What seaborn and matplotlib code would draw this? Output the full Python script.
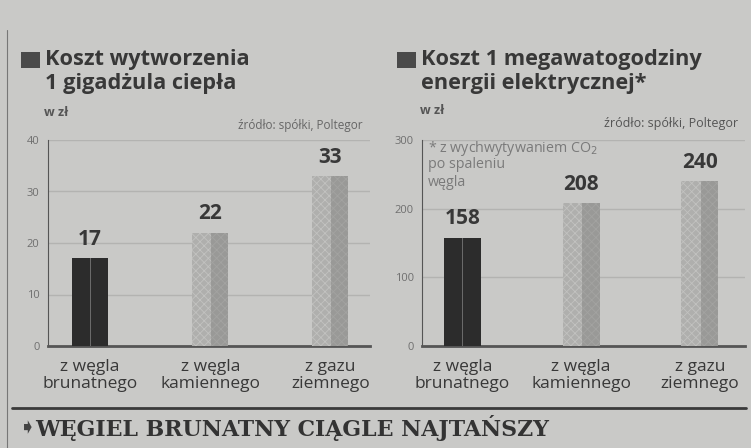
import matplotlib
matplotlib.use("Agg")
import matplotlib.pyplot as plt
from matplotlib.patches import Rectangle
import seaborn as sns

# dane
kategorie = ["z węgla\nbrunatnego", "z węgla\nkamiennego", "z gazu\nziemnego"]
koszt_ciepla = [17, 22, 33]
koszt_energii = [158, 208, 240]
ticks_ciepla = [0, 10, 20, 30, 40]
ticks_energii = [0, 100, 200, 300]
przypis = ["* z wychwytywaniem CO$_2$", "po spaleniu", "węgla"]

tlo = "#c9c9c7"
ciemny = "#2c2c2c"
jasny = "#afafad"
tekst = "#383838"

sns.set_theme(style="white")
plt.rcParams["font.family"] = ["Open Sans", "DejaVu Sans"]
plt.rcParams["hatch.linewidth"] = 0.6

fig = plt.figure(figsize=(7.51, 4.48), dpi=100, facecolor=tlo)
W, H = 751, 448

def fx(px):
    return px / W

def fy(py):
    return 1 - py / H

def rysuj(ax, wartosci, ticks, xlim, szer):
    ax.set_facecolor(tlo)
    sns.barplot(x=kategorie, y=wartosci, hue=kategorie, palette=[ciemny, jasny, jasny],
                legend=False, ax=ax, width=szer, saturation=1)
    for i, p in enumerate(list(ax.patches)):
        p.set_linewidth(0)
        p.set_zorder(3)
        x0, w, h = p.get_x(), p.get_width(), p.get_height()
        if i > 0:
            p.set_hatch("xxxx")
            p.set_edgecolor("#c2c2c0")
            # ciemniejsza prawa polowa (efekt 3D)
            ax.add_patch(Rectangle((x0 + w * 0.52, 0), w * 0.48, h, color="#7f7f7d",
                                   alpha=0.45, lw=0, zorder=4))
        else:
            ax.add_patch(Rectangle((x0 + w * 0.49, 0), w * 0.03, h, color="#6a6a6a",
                                   lw=0, zorder=4))
    for i, v in enumerate(wartosci):
        ax.annotate(str(v), (i, v), xytext=(0, 6), textcoords="offset points",
                    ha="center", va="bottom", fontsize=15, fontweight="bold", color=tekst)
    ax.set_ylim(ticks[0], ticks[-1])
    ax.set_xlim(*xlim)
    ax.set_yticks(ticks)
    ax.set_yticklabels([str(t) for t in ticks], fontsize=8, color="#6f6f6f")
    ax.yaxis.grid(True, color="#b3b3b1", lw=1)
    ax.set_axisbelow(True)
    for s in ["top", "right"]:
        ax.spines[s].set_visible(False)
    ax.spines["left"].set_color("#555555")
    ax.spines["left"].set_linewidth(0.8)
    ax.spines["bottom"].set_color("#555555")
    ax.spines["bottom"].set_linewidth(2)
    ax.tick_params(axis="y", length=0, pad=6)
    ax.tick_params(axis="x", length=0, pad=9, labelsize=12.5, labelcolor=tekst)
    ax.set_xlabel("")
    ax.set_ylabel("")
    for lab in ax.get_xticklabels():
        lab.set_linespacing(1.12)

ax1 = fig.add_axes([fx(48), fy(346), fx(370 - 48), (346 - 140) / H])
rysuj(ax1, koszt_ciepla, ticks_ciepla, (-0.35, 2.33), 0.3)

ax2 = fig.add_axes([fx(422), fy(346), fx(745 - 422), (346 - 140) / H])
rysuj(ax2, koszt_energii, ticks_energii, (-0.34, 2.38), 0.31)

# tytuly
def tytul(x, linie):
    fig.add_artist(Rectangle((fx(x), fy(68)), fx(19), 16 / H, color="#4a4a4a", lw=0))
    fig.text(fx(x + 24), fy(60), linie[0], fontsize=15.7, fontweight="bold", color=tekst,
             va="center", ha="left")
    fig.text(fx(x + 24), fy(84), linie[1], fontsize=15.7, fontweight="bold", color=tekst,
             va="center", ha="left")

tytul(21, ["Koszt wytworzenia", "1 gigadżula ciepła"])
tytul(397, ["Koszt 1 megawatogodziny", "energii elektrycznej*"])

fig.text(fx(44), fy(112), "w zł", fontsize=9, fontweight="bold", color="#555555", va="center")
fig.text(fx(420), fy(110), "w zł", fontsize=9, fontweight="bold", color="#555555", va="center")
fig.text(fx(363), fy(125), "źródło: spółki, Poltegor", fontsize=8.5, color="#666666",
         va="center", ha="right")
fig.text(fx(738), fy(124), "źródło: spółki, Poltegor", fontsize=9, color="#555555",
         va="center", ha="right")
for linia, y in zip(przypis, [148, 165, 182]):
    fig.text(fx(428), fy(y), linia, fontsize=10.3, color="#7a7a7a", va="center", ha="left")

# dolny pasek
fig.add_artist(plt.Line2D([fx(12), fx(746)], [fy(408), fy(408)], color="#3a3a3a", lw=2))
fig.add_artist(plt.Line2D([fx(7), fx(7)], [fy(30), fy(448)], color="#777777", lw=0.8))
fig.text(fx(19), fy(428), "➧", fontsize=15, color="#444444", va="center", ha="left",
         family="DejaVu Sans")
fig.text(fx(35), fy(428), "WĘGIEL BRUNATNY CIĄGLE NAJTAŃSZY", fontsize=15.8, fontweight="bold",
         color="#333333", va="center", ha="left", family=["DejaVu Serif", "DejaVu Sans"])

fig.savefig("out.png", dpi=100, facecolor=tlo)
